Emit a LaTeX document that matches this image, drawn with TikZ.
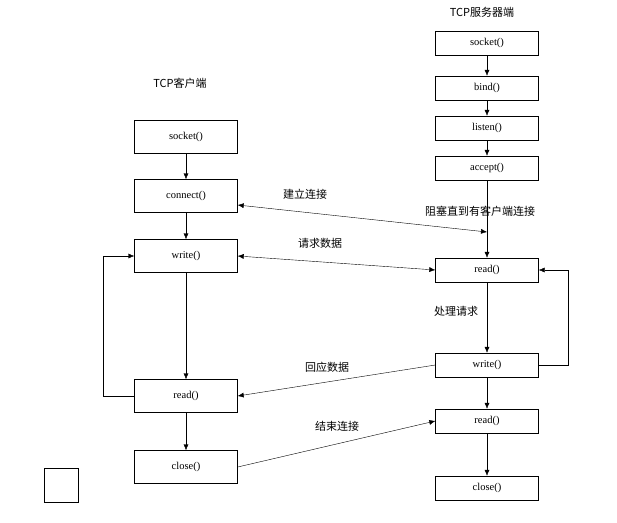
\documentclass[tikz,border=0pt]{standalone}
\usepackage{fontspec}
\setmainfont{Liberation Serif}
\newfontfamily\cjk{Noto Sans CJK SC}
\usetikzlibrary{calc,arrows.meta}

\begin{document}
\begin{tikzpicture}[x=1pt,y=-1pt,
            fn-node/.style={draw,rectangle,minimum width=103pt,minimum height=24pt,font=\fontsize{10.5}{12}\selectfont},
            big-node/.style={fn-node,minimum height=33pt},
            lbl-node/.style={font=\cjk\fontsize{11}{13}\selectfont},
            arr/.style={-{Latex[length=6pt,width=5pt]},thin},
            darr/.style={{Latex[length=6pt,width=5pt]}-{Latex[length=6pt,width=5pt]},thin},
        ]
            \useasboundingbox (0,0) rectangle (617,522);

            \node[lbl-node] (ct) at (180,83) {TCP客户端};
            \node[big-node] (csock) at (186,137) {socket()};
            \node[big-node] (cconn) at (186,196) {connect()};
            \node[big-node] (cwrite) at (186,256) {write()};
            \node[big-node] (cread) at (186,396) {read()};
            \node[big-node] (cclose) at (186,467) {close()};

            \node[lbl-node] (st) at (482,12) {TCP服务器端};
            \node[fn-node] (ssock) at (487,43) {socket()};
            \node[fn-node] (sbind) at (487,88) {bind()};
            \node[fn-node] (slist) at (487,128) {listen()};
            \node[fn-node] (sacc) at (487,168) {accept()};
            \node[fn-node] (sread) at (487,270) {read()};
            \node[fn-node] (swrite) at (487,365) {write()};
            \node[fn-node] (sread2) at (487,421) {read()};
            \node[fn-node] (sclose) at (487,488) {close()};

            \node[draw,minimum size=34pt] (box) at (61,485) {};

            \node[lbl-node] (l1) at (305,194) {建立连接};
            \node[lbl-node] (l2) at (480,211) {阻塞直到有客户端连接};
            \node[lbl-node] (l3) at (320,243) {请求数据};
            \node[lbl-node] (l4) at (456,311) {处理请求};
            \node[lbl-node] (l5) at (327,367) {回应数据};
            \node[lbl-node] (l6) at (337,426) {结束连接};

            \coordinate (blk) at (487,232);

            % client column
            \draw[arr] (csock) -- (cconn);
            \draw[arr] (cconn) -- (cwrite);
            \draw[arr] (cwrite) -- (cread);
            \draw[arr] (cread) -- (cclose);
            \draw[arr] (cread.west) -- ++(-31,0) |- (cwrite.west);

            % server column
            \draw[arr] (ssock) -- (sbind);
            \draw[arr] (sbind) -- (slist);
            \draw[arr] (slist) -- (sacc);
            \draw[arr] (sacc) -- (sread);
            \draw[arr] (sread) -- (swrite);
            \draw[arr] (swrite) -- (sread2);
            \draw[arr] (sread2) -- (sclose);
            \draw[arr] (swrite.east) -- ++(29,0) |- (sread.east);

            % between
            \draw[darr] ($(cconn.east)+(0,9)$) -- (blk);
            \draw[darr] (cwrite.east) -- (sread.west);
            \draw[arr] (swrite.west) -- (cread.east);
            \draw[arr] (cclose.east) -- (sread2.west);
        \end{tikzpicture}
\end{document}
